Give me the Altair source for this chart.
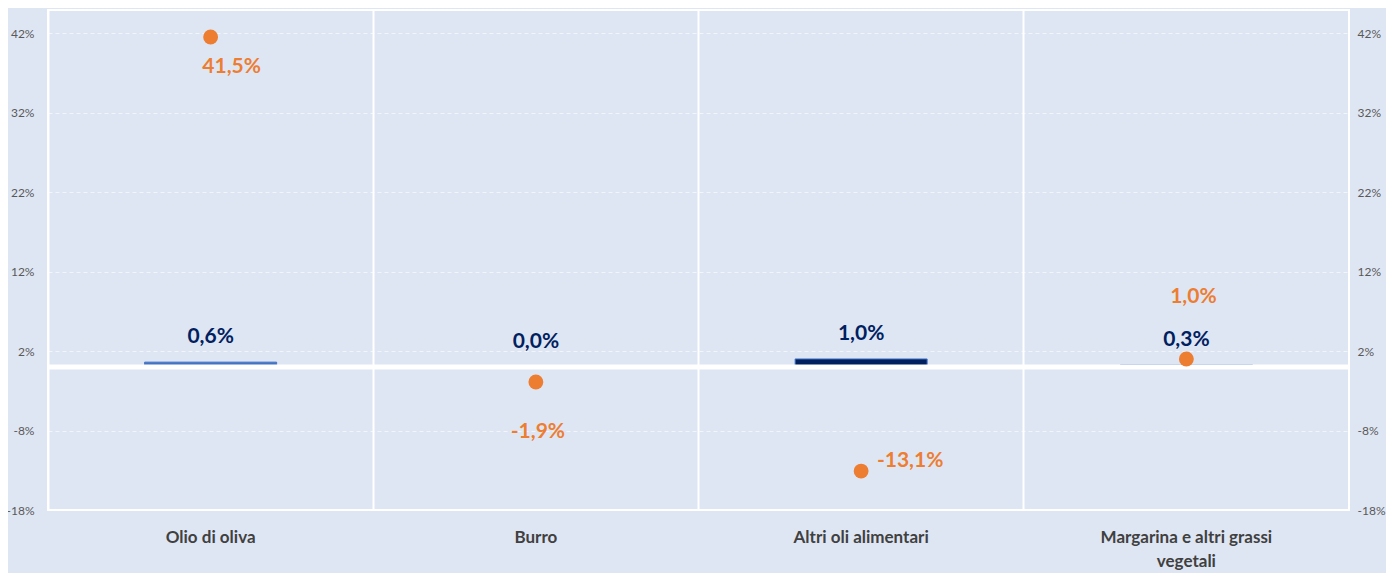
import altair as alt
import pandas as pd

categories = ["Olio di oliva", "Burro", "Altri oli alimentari", "Margarina e altri grassi vegetali"]
bar_values = [0.6, 0.0, 1.0, 0.3]
dot_values = [41.5, -1.9, -13.1, 1.0]
y_ticks = [-18, -8, 2, 12, 22, 32, 42]

df = pd.DataFrame({"cat": categories, "bar": bar_values, "dot": dot_values})

BG = "#dfe6f3"
FONT = "Lato"
xscale = alt.Scale(domain=categories, paddingInner=0, paddingOuter=0)
yscale = alt.Scale(domain=[-18, 44.9], nice=False, zero=False)

base = alt.Chart(df).transform_calculate(
    bar_lbl="replace(replace(format(datum.bar, '.1f'), '.', ','), '\u2212', '-') + '%'",
    dot_lbl="replace(replace(format(datum.dot, '.1f'), '.', ','), '\u2212', '-') + '%'",
)

xaxis = alt.Axis(
    title=None, grid=True, gridColor="white", gridWidth=2, bandPosition=0,
    ticks=False, domain=False, labelAngle=0, labelFont=FONT,
    labelFontWeight="bold", labelFontSize=17, labelColor="#404040",
    labelPadding=19, labelLineHeight=24,
    labelExpr="datum.label == 'Margarina e altri grassi vegetali' ? ['Margarina e altri grassi', 'vegetali'] : datum.label",
)

def yaxis(orient):
    return alt.Axis(
        title=None, orient=orient, values=y_ticks, labelExpr="datum.value + '%'",
        grid=(orient == "left"), gridColor="white", gridOpacity=0.6, gridDash=[4, 3],
        gridWidth=1, ticks=False, domain=False, labelFont=FONT,
        labelFontSize=12, labelColor="#595959", labelPadding=14 if orient == "left" else 8,
    )

def X():
    return alt.X("cat:N", scale=xscale, axis=xaxis, sort=categories)

bars = base.mark_bar(size=132, strokeWidth=1).encode(
    x=X(),
    y=alt.Y("bar:Q", scale=yscale, axis=yaxis("left")),
    color=alt.Color("cat:N", scale=alt.Scale(domain=categories,
                    range=["#4472c4", "#4472c4", "#002060", "#8faadc"]), legend=None),
    stroke=alt.Stroke("cat:N", scale=alt.Scale(domain=categories,
                    range=["#4472c4", "#4472c4", "#4472c4", "#8faadc"]), legend=None),
)

zero = alt.Chart(pd.DataFrame({"z": [0]})).mark_rule(color="white", strokeWidth=5).encode(
    y=alt.Y("z:Q", scale=yscale, axis=yaxis("right"))
)

dots = base.mark_circle(size=220, color="#ed7d31", opacity=1).encode(
    x=X(),
    y=alt.Y("dot:Q", scale=yscale, axis=None),
)

bar_text = base.mark_text(font=FONT, fontWeight="bold", fontSize=21,
                          color="#002060", dy=-25).encode(
    x=X(),
    y=alt.Y("bar:Q", scale=yscale, axis=None),
    text="bar_lbl:N",
)

offsets = {
    "Olio di oliva": (21, 30),
    "Burro": (2, 50),
    "Altri oli alimentari": (49, -10),
    "Margarina e altri grassi vegetali": (7, -62),
}
dot_texts = []
for c, (dx, dy) in offsets.items():
    dot_texts.append(
        base.transform_filter(alt.datum.cat == c).mark_text(
            font=FONT, fontWeight="bold", fontSize=21, color="#ed7d31", dx=dx, dy=dy
        ).encode(
            x=X(),
            y=alt.Y("dot:Q", scale=yscale, axis=None),
            text="dot_lbl:N",
        )
    )

chart = alt.layer(bars, zero, dots, bar_text, *dot_texts).resolve_axis(y="independent").properties(
    width=1301, height=500,
    autosize=alt.AutoSizeParams(type="none"),
    padding={"left": 40, "top": 2, "right": 37, "bottom": 63},
    background=BG,
).configure_view(stroke="white", strokeWidth=2, fill=BG)

chart.save("out.html", embed_options={"renderer": "svg", "actions": False})
